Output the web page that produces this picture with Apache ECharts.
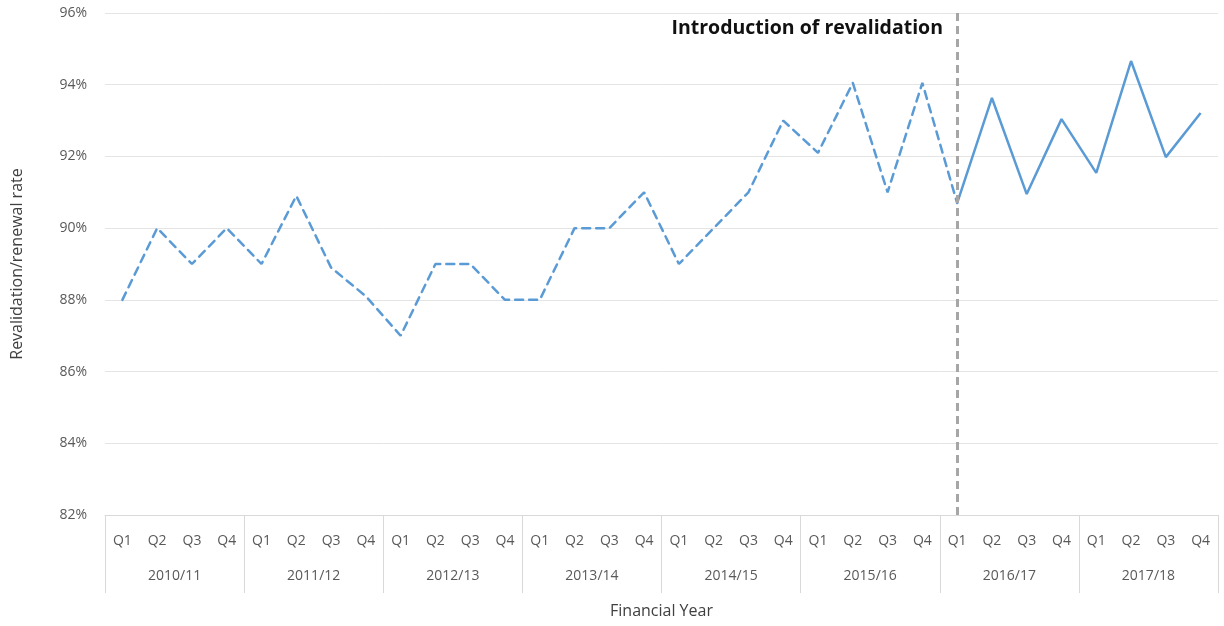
<!DOCTYPE html>
<html>
<head>
<meta charset="utf-8">
<script src="https://cdn.jsdelivr.net/npm/echarts@6/dist/echarts.min.js"></script>
<style>html,body{margin:0;padding:0;background:#fff;}#chart{width:1224px;height:626px;}</style>
</head>
<body>
<div id="chart"></div>
<script>
const quarters = ['Q1','Q2','Q3','Q4','Q1','Q2','Q3','Q4','Q1','Q2','Q3','Q4','Q1','Q2','Q3','Q4','Q1','Q2','Q3','Q4','Q1','Q2','Q3','Q4','Q1','Q2','Q3','Q4','Q1','Q2','Q3','Q4'];
const years = ['2010/11','2011/12','2012/13','2013/14','2014/15','2015/16','2016/17','2017/18'];
const beforeRevalidation = [88,90,89,90, 89,90.9,88.9,88.1, 87,89,89,88, 88,90,90,91, 89,90,91,93, 92.1,94.05,91,94.05, 90.7,null,null,null, null,null,null,null];
const afterRevalidation = [null,null,null,null, null,null,null,null, null,null,null,null, null,null,null,null, null,null,null,null, null,null,null,null, 90.7,93.63,90.95,93.04, 91.54,94.66,91.98,93.21];
const yTicks = {min:82, max:96, interval:2};
const annotation = 'Introduction of revalidation';
const revalidationIndex = 24;

const font = '"Open Sans", "Noto Sans", sans-serif';
const chart = echarts.init(document.getElementById('chart'));
chart.setOption({
  animation:false,
  grid:{left:105, right:6, top:13, bottom:111},
  xAxis:[{
    type:'category', data:quarters, position:'bottom',
    axisLine:{show:true, lineStyle:{color:'#d9d9d9', width:1}},
    axisTick:{show:false},
    axisLabel:{interval:0, color:'#595959', fontSize:14, fontFamily:font, margin:19},
    name:'Financial Year', nameLocation:'middle', nameGap:88,
    nameTextStyle:{color:'#404040', fontSize:16, fontFamily:font}
  },{
    type:'category', data:years, position:'bottom', boundaryGap:true,
    axisLine:{show:false},
    axisTick:{show:true, interval:0, length:78, lineStyle:{color:'#d9d9d9', width:1}},
    axisLabel:{interval:0, color:'#595959', fontSize:14, fontFamily:font, margin:54}
  }],
  yAxis:{
    type:'value', min:yTicks.min, max:yTicks.max, interval:yTicks.interval,
    axisLine:{show:false}, axisTick:{show:false},
    splitLine:{lineStyle:{color:'#e4e4e4', width:1}},
    axisLabel:{formatter:v=>v+'%', color:'#595959', fontSize:14, fontFamily:font, margin:18},
    name:'Revalidation/renewal rate', nameLocation:'middle', nameGap:80, nameRotate:90,
    nameTextStyle:{color:'#404040', fontSize:16, fontFamily:font}
  },
  series:[{
    type:'line', data:beforeRevalidation, symbol:'none', connectNulls:false, z:2,
    lineStyle:{color:'#5b9bd5', width:2.5, type:[8,6], cap:'round'}
  },{
    type:'line', data:afterRevalidation, symbol:'none', z:2,
    lineStyle:{color:'#5b9bd5', width:2.5},
    markLine:{
      symbol:'none', silent:true, animation:false, z:3,
      lineStyle:{color:'#a6a6a6', width:3, type:[8,5]},
      label:{show:false},
      data:[{xAxis:revalidationIndex}]
    }
  }],
  graphic:[{
    type:'text', right:1224-943, top:18,
    style:{text:annotation, font:'bold 19.5px '+font, fill:'#111'}
  }]
});
</script>
</body>
</html>
